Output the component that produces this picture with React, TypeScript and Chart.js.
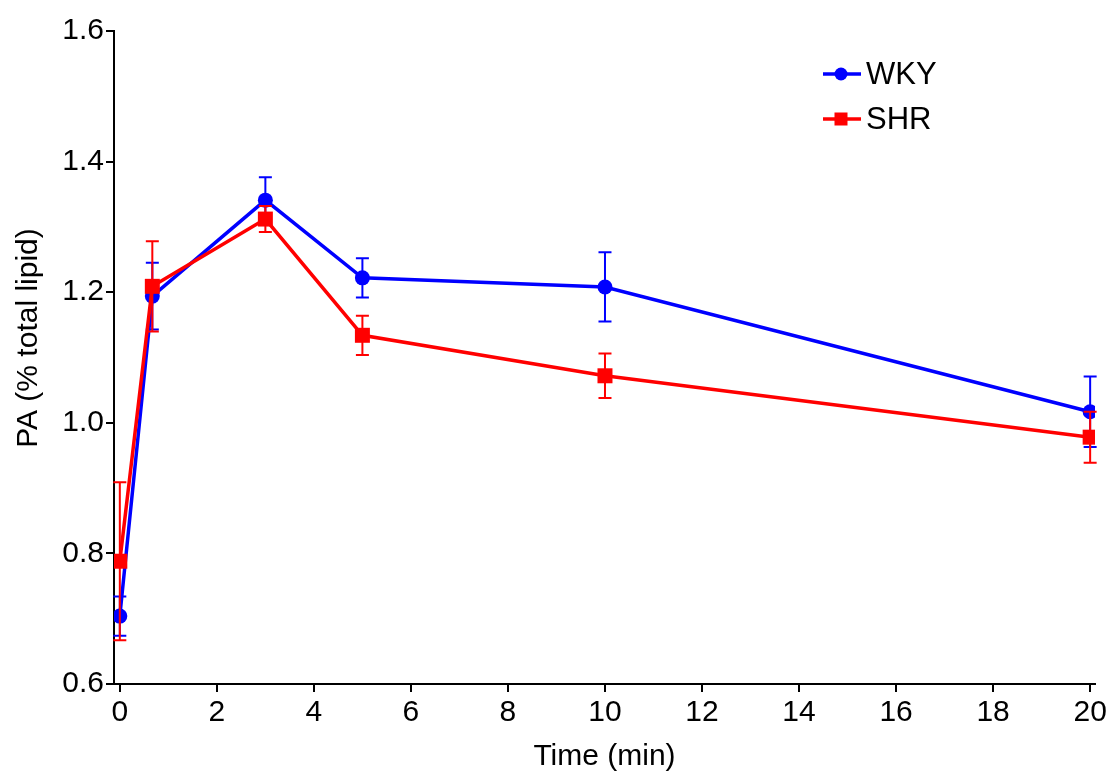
import React, { useEffect, useRef } from "react";
import { Chart, registerables } from "chart.js";

Chart.register(...registerables);

const timeMin = [0, 0.67, 3, 5, 10, 20];
const wkyMean = [0.704, 1.194, 1.341, 1.222, 1.208, 1.017];
const wkyErr = [0.03, 0.051, 0.035, 0.03, 0.053, 0.054];
const shrMean = [0.788, 1.209, 1.312, 1.134, 1.072, 0.978];
const shrErr = [0.121, 0.069, 0.02, 0.03, 0.034, 0.039];
const xTicks = [0, 2, 4, 6, 8, 10, 12, 14, 16, 18, 20];
const yTicks = [0.6, 0.8, 1.0, 1.2, 1.4, 1.6];
const seriesNames = ["WKY", "SHR"];
const seriesColors = ["#0000ff", "#ff0000"];

const FONT = "'Liberation Sans', Arial, Helvetica, sans-serif";

const errorBarPlugin = {
  id: "errorBars",
  beforeDatasetDraw(chart: any, args: any) {
    const ds = chart.data.datasets[args.index];
    const errs: number[] = ds.errors;
    if (!errs) return;
    const xs = chart.scales.x;
    const ys = chart.scales.y;
    const ctx = chart.ctx;
    ctx.save();
    ctx.strokeStyle = ds.borderColor;
    ctx.lineWidth = 2;
    const cap = 6.5;
    ds.data.forEach((p: any, i: number) => {
      const px = xs.getPixelForValue(p.x);
      const top = ys.getPixelForValue(p.y + errs[i]);
      const bot = ys.getPixelForValue(p.y - errs[i]);
      ctx.beginPath();
      ctx.moveTo(px, top);
      ctx.lineTo(px, bot);
      ctx.moveTo(px - cap, top);
      ctx.lineTo(px + cap, top);
      ctx.moveTo(px - cap, bot);
      ctx.lineTo(px + cap, bot);
      ctx.stroke();
    });
    ctx.restore();
  },
};

const decorPlugin = {
  id: "decor",
  afterDraw(chart: any) {
    const ctx = chart.ctx;
    const area = chart.chartArea;
    // y-axis title
    ctx.save();
    ctx.fillStyle = "#000";
    ctx.font = `30px ${FONT}`;
    ctx.textAlign = "center";
    ctx.textBaseline = "middle";
    ctx.translate(29, 338);
    ctx.rotate(-Math.PI / 2);
    ctx.fillText("PA (% total lipid)", 0, 0);
    ctx.restore();

    // legend
    const lx0 = area.right - 272;
    const rows = [74, 119];
    seriesNames.forEach((name, i) => {
      const y = rows[i];
      const color = seriesColors[i];
      ctx.save();
      ctx.strokeStyle = color;
      ctx.lineWidth = 3.5;
      ctx.beginPath();
      ctx.moveTo(lx0, y);
      ctx.lineTo(lx0 + 38, y);
      ctx.stroke();
      ctx.fillStyle = color;
      const mx = lx0 + 18;
      if (i === 0) {
        ctx.beginPath();
        ctx.arc(mx, y, 6.5, 0, Math.PI * 2);
        ctx.fill();
      } else {
        ctx.fillRect(mx - 6.5, y - 6.5, 13, 13);
      }
      ctx.fillStyle = "#000";
      ctx.font = `31px ${FONT}`;
      ctx.textAlign = "left";
      ctx.textBaseline = "middle";
      ctx.fillText(name, lx0 + 43, y + 1);
      ctx.restore();
    });
  },
};

export default function App() {
  const canvasRef = useRef<HTMLCanvasElement | null>(null);

  useEffect(() => {
    if (!canvasRef.current) return;
    const wkyData = timeMin.map((x, i) => ({ x, y: wkyMean[i] }));
    const shrData = timeMin.map((x, i) => ({ x, y: shrMean[i] }));
    const chart = new Chart(canvasRef.current, {
      type: "line",
      data: {
        datasets: [
          {
            label: seriesNames[0],
            data: wkyData,
            errors: wkyErr,
            borderColor: seriesColors[0],
            backgroundColor: seriesColors[0],
            borderWidth: 3.5,
            pointStyle: "circle",
            pointRadius: 7.5,
            pointBorderWidth: 0,
            tension: 0,
            order: 2,
          } as any,
          {
            label: seriesNames[1],
            data: shrData,
            errors: shrErr,
            borderColor: seriesColors[1],
            backgroundColor: seriesColors[1],
            borderWidth: 3.5,
            pointStyle: "rect",
            pointRadius: 10.6,
            pointBorderWidth: 0,
            tension: 0,
            order: 1,
          } as any,
        ],
      },
      options: {
        animation: false,
        responsive: false,
        layout: { padding: { left: 0, top: 31, right: 17, bottom: 0 } },
        plugins: {
          legend: { display: false },
          tooltip: { enabled: false },
        },
        scales: {
          x: {
            type: "linear",
            min: -0.12,
            max: 20.1,
            afterBuildTicks: (s: any) => {
              s.ticks = xTicks.map((v) => ({ value: v }));
            },
            afterFit: (s: any) => {
              s.height = 95;
            },
            grid: {
              drawOnChartArea: false,
              drawTicks: true,
              tickLength: 8,
              color: "#000",
              lineWidth: 2,
            },
            border: { display: true, color: "#000", width: 2 },
            ticks: {
              color: "#000",
              font: { family: FONT, size: 30 },
              padding: 3,
              maxRotation: 0,
              autoSkip: false,
              callback: (v: any) => String(v),
            },
            title: {
              display: true,
              text: "Time (min)",
              color: "#000",
              font: { family: FONT, size: 30 },
              padding: { top: 0, bottom: 4 },
            },
          },
          y: {
            type: "linear",
            min: 0.6,
            max: 1.6,
            afterBuildTicks: (s: any) => {
              s.ticks = yTicks.map((v) => ({ value: v }));
            },
            afterFit: (s: any) => {
              s.width = 114;
            },
            grid: {
              drawOnChartArea: false,
              drawTicks: true,
              tickLength: 8,
              color: "#000",
              lineWidth: 2,
            },
            border: { display: true, color: "#000", width: 2 },
            ticks: {
              color: "#000",
              font: { family: FONT, size: 30 },
              padding: 2,
              autoSkip: false,
              callback: (v: any) => Number(v).toFixed(1),
            },
          },
        },
      },
      plugins: [errorBarPlugin, decorPlugin],
    } as any);
    return () => chart.destroy();
  }, []);

  return (
    <div style={{ position: "absolute", left: 0, top: 0, width: 1112, height: 779, background: "#fff" }}>
      <canvas ref={canvasRef} width={1112} height={779} style={{ display: "block" }} />
    </div>
  );
}
